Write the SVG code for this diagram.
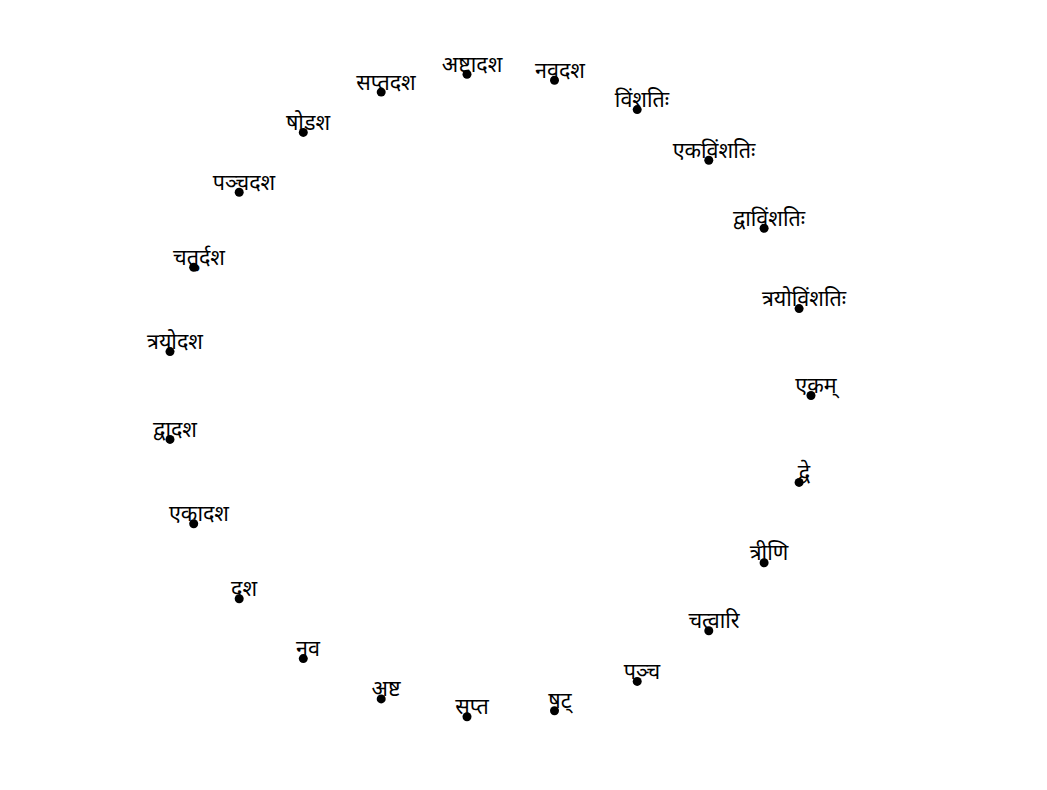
<svg xmlns="http://www.w3.org/2000/svg" width="1047" height="790" viewBox="0 0 1047 790">
<style>
.n circle{fill:#000}
.n text{font-family:"Noto Sans","Noto Sans Devanagari","Lohit Devanagari","FreeSans",sans-serif;font-size:21.5px;font-weight:400;fill:#000;text-anchor:middle}
</style>
<rect width="1047" height="790" fill="#fff"/>
<g id="connectors"></g>
<g id="n0" class="n"><circle cx="811" cy="395.5" r="4.5"/><text x="816" y="393">एकम्</text></g>
<g id="n1" class="n"><circle cx="799.1" cy="482.4" r="4.5"/><text x="804" y="480">द्वे</text></g>
<g id="n2" class="n"><circle cx="764.1" cy="562.8" r="4.5"/><text x="769" y="560">त्रीणि</text></g>
<g id="n3" class="n"><circle cx="708.8" cy="630.8" r="4.5"/><text x="714" y="628">चत्वारि</text></g>
<g id="n4" class="n"><circle cx="637.2" cy="681.4" r="4.5"/><text x="642" y="679">पञ्च</text></g>
<g id="n5" class="n"><circle cx="554.5" cy="710.8" r="4.5"/><text x="560" y="708">षट्</text></g>
<g id="n6" class="n"><circle cx="467" cy="716.8" r="4.5"/><text x="472" y="714">सप्त</text></g>
<g id="n7" class="n"><circle cx="381.2" cy="698.9" r="4.5"/><text x="386" y="696">अष्ट</text></g>
<g id="n8" class="n"><circle cx="303.3" cy="658.6" r="4.5"/><text x="308" y="656">नव</text></g>
<g id="n9" class="n"><circle cx="239.2" cy="598.7" r="4.5"/><text x="244" y="596">दश</text></g>
<g id="n10" class="n"><circle cx="193.7" cy="523.8" r="4.5"/><text x="199" y="521">एकादश</text></g>
<g id="n11" class="n"><circle cx="170" cy="439.4" r="4.5"/><text x="175" y="437">द्वादश</text></g>
<g id="n12" class="n"><circle cx="170" cy="351.6" r="4.5"/><text x="175" y="349">त्रयोदश</text></g>
<g id="n13" class="n"><circle cx="193.7" cy="267.2" r="4.5"/><text x="199" y="264.5">चतुर्दश</text></g>
<g id="n14" class="n"><circle cx="239.2" cy="192.3" r="4.5"/><text x="244" y="189.5">पञ्चदश</text></g>
<g id="n15" class="n"><circle cx="303.3" cy="132.4" r="4.5"/><text x="308" y="130">षोडश</text></g>
<g id="n16" class="n"><circle cx="381.2" cy="92.1" r="4.5"/><text x="386" y="89.5">सप्तदश</text></g>
<g id="n17" class="n"><circle cx="467" cy="74.2" r="4.5"/><text x="472" y="71.5">अष्टादश</text></g>
<g id="n18" class="n"><circle cx="554.5" cy="80.2" r="4.5"/><text x="560" y="77.5">नवदश</text></g>
<g id="n19" class="n"><circle cx="637.2" cy="109.6" r="4.5"/><text x="642" y="107">विंशतिः</text></g>
<g id="n20" class="n"><circle cx="708.8" cy="160.2" r="4.5"/><text x="714" y="157.5">एकविंशतिः</text></g>
<g id="n21" class="n"><circle cx="764.1" cy="228.2" r="4.5"/><text x="769" y="225.5">द्वाविंशतिः</text></g>
<g id="n22" class="n"><circle cx="799.1" cy="308.6" r="4.5"/><text x="804" y="306">त्रयोविंशतिः</text></g>
</svg>
